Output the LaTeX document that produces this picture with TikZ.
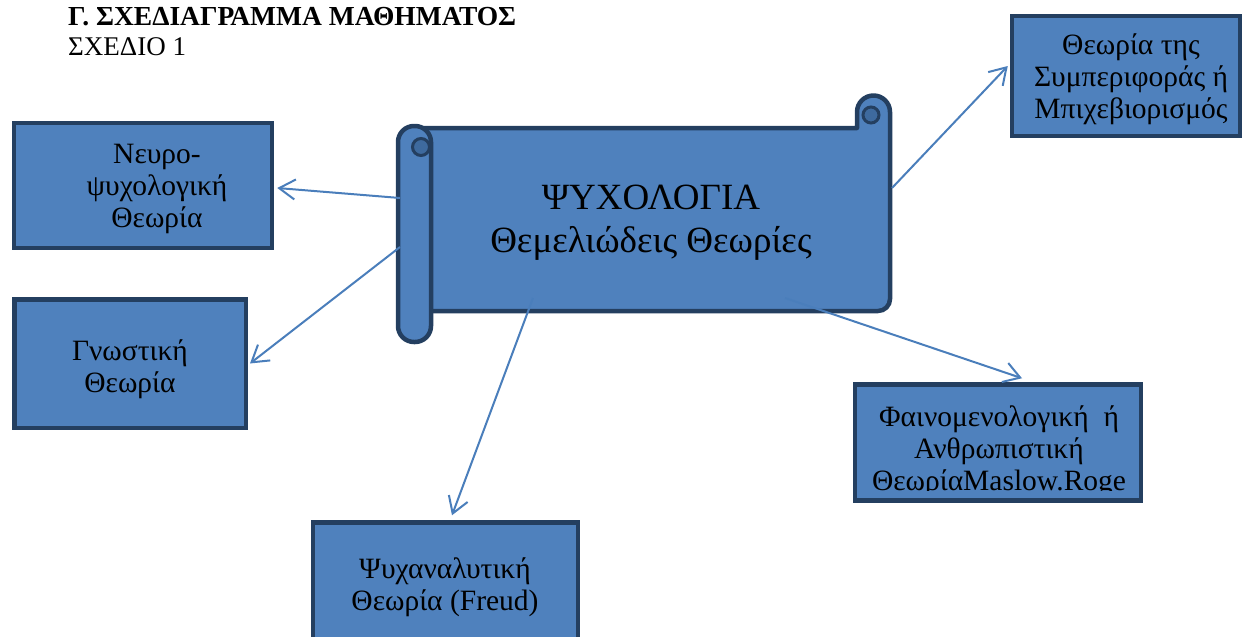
\documentclass[tikz,border=0pt]{standalone}
\usepackage{fontspec}
\setmainfont{Liberation Serif}
\usetikzlibrary{arrows.meta}

\definecolor{boxblue}{HTML}{4F81BD}
\definecolor{edgeblue}{HTML}{243F60}
\definecolor{linkblue}{HTML}{4A7EBB}
\definecolor{curlblue}{HTML}{3E6A9E}

\tikzset{
	theorybox/.style={draw=edgeblue, line width=4.5pt, fill=boxblue, inner sep=0pt},
	boxtext/.style={align=center, font=\fontsize{29.5}{32}\selectfont, inner sep=0pt},
	link/.style={draw=linkblue, line width=2pt, -{Straight Barb[length=16pt,width=20pt]}},
	scrollpart/.style={draw=edgeblue, line width=4.5pt, fill=boxblue, line join=round},
	curl/.style={draw=edgeblue, line width=3pt, fill=curlblue}
}

\begin{document}
\begin{tikzpicture}[x=1pt, y=1pt]
	\clip (0,0) rectangle (1242,-637);
	% heading
	\node[anchor=base west, inner sep=0pt, font=\fontsize{27.5}{30}\selectfont\bfseries] (heading) at (68,-25) {Γ. ΣΧΕΔΙΑΓΡΑΜΜΑ ΜΑΘΗΜΑΤΟΣ};
	\node[anchor=base west, inner sep=0pt, font=\fontsize{27}{30}\selectfont] (plan) at (68,-55) {ΣΧΕΔΙΟ 1};
	% the scroll
	\draw[scrollpart] (414,-128) -- (857,-128) -- (857,-112) arc[start angle=180, end angle=0, radius=16.5] -- (890,-299) arc[start angle=0, end angle=-90, radius=12] -- (414,-311) -- cycle;
	\draw[curl] (871,-115) circle (8);
	\draw[scrollpart, rounded corners=16] (398,-126) rectangle (431,-342);
	\draw[curl] (421,-147) circle (8.5);
	\node[inner sep=0pt, align=center, font=\fontsize{37}{43}\selectfont] (title) at (651,-223) {ΨΥΧΟΛΟΓΙΑ\\Θεμελιώδεις Θεωρίες};
	% the theories
	\node[theorybox, minimum width=258, minimum height=125] (neuro) at (143,-185.5) {};
	\node[boxtext] (neurotext) at (157,-188.5) {Νευρο-\\ψυχολογική\\Θεωρία};
	\node[theorybox, minimum width=231.5, minimum height=128.5] (gnostic) at (130,-363.5) {};
	\node[boxtext] (gnostictext) at (130,-369) {Γνωστική\\Θεωρία};
	\node[theorybox, minimum width=265, minimum height=140] (psycho) at (445.5,-592.5) {};
	\node[boxtext] (psychotext) at (445,-587) {Ψυχαναλυτική\\Θεωρία (Freud)};
	\node[theorybox, minimum width=286, minimum height=116] (phaino) at (998,-442.5) {};
	\begin{scope}
		\clip (855,-384) rectangle (1141,-490);
		\node[boxtext] (phainotext) at (999,-451.5) {Φαινομενολογική\ \ ή\\Ανθρωπιστική\\ΘεωρίαMaslow.Roge};
	\end{scope}
	\node[theorybox, minimum width=228, minimum height=120] (behav) at (1126,-76) {};
	\node[boxtext] (behavtext) at (1131,-79) {Θεωρία της\\Συμπεριφοράς ή\\Μπιχεβιορισμός};
	% arrows
	\coordinate (leftup) at (400,-198);
	\coordinate (leftdown) at (400,-247);
	\coordinate (bottomleft) at (533,-298);
	\coordinate (bottomright) at (785,-298);
	\coordinate (rightside) at (892,-188);
	\draw[link] (leftup) -- ([xshift=3pt, yshift=-2.5pt]neuro.east);
	\draw[link] (leftdown) -- ([xshift=2pt]gnostic.east);
	\draw[link] (bottomleft) -- ([xshift=6.5pt, yshift=5pt]psycho.north);
	\draw[link] (bottomright) -- ([xshift=24pt, yshift=4pt]phaino.north);
	\draw[link] (rightside) -- ([xshift=-2pt, yshift=10pt]behav.west);
\end{tikzpicture}
\end{document}
